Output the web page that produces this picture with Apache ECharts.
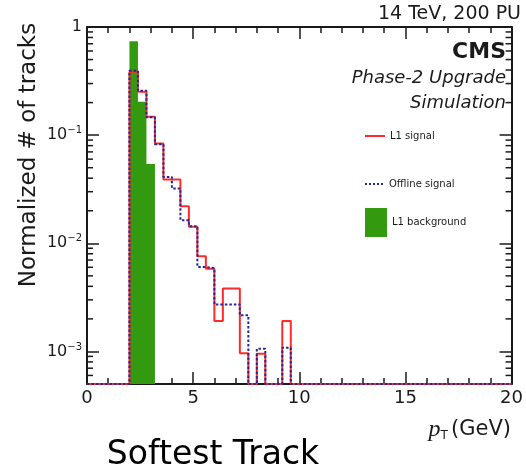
<!DOCTYPE html>
<html>
<head>
<meta charset="utf-8">
<script src="https://cdn.jsdelivr.net/npm/echarts@6/dist/echarts.min.js"></script>
<style>
    html, body { margin: 0; padding: 0; background: #fff; }
    #chart { width: 526px; height: 472px; }
</style>
</head>
<body>
<div id="chart"></div>
<script>
// bin edges of the histogram (GeV), 0.4 GeV bins between 2 and 10
let binEdges = [2.0, 2.4, 2.8, 3.2, 3.6, 4.0, 4.4, 4.8, 5.2, 5.6, 6.0,
                6.4, 6.8, 7.2, 7.6, 8.0, 8.4, 8.8, 9.2, 9.6, 10.0]

// normalized # of tracks per bin
let l1Signal = [0.386, 0.252, 0.148, 0.0838, 0.0389, 0.0389, 0.0220, 0.0142, 0.00758, 0.00583,
                0.00191, 0.00381, 0.00381, 0.00096, 0, 0.00095, 0, 0, 0.00191, 0]
let offlineSignal = [0.395, 0.257, 0.146, 0.0826, 0.0411, 0.0321, 0.0163, 0.0144, 0.00604, 0.0059,
                     0.00272, 0.00272, 0.00272, 0.00216, 0, 0.00106, 0, 0, 0.00108, 0]
let l1Background = [0.74, 0.204, 0.054, 0, 0, 0, 0, 0, 0, 0,
                    0, 0, 0, 0, 0, 0, 0, 0, 0, 0]

let xTicks = [0, 5, 10, 15, 20]
let yMin = 5e-4
let yMax = 1

let font = 'DejaVu Sans'
let ink = '#1a1a1a'
let green = '#33990f'
let red = '#ff2b2b'
let blue = '#262699'

// empty bins sit on the floor of the log axis
function histLine (values) {
    let pts = [[xTicks[0], yMin]]
    for (let i = 0; i < values.length; i++) {
        pts.push([binEdges[i], Math.max(values[i], yMin)])
    }
    pts.push([binEdges[binEdges.length - 1], yMin])
    pts.push([xTicks[xTicks.length - 1], yMin])
    return pts
}

// log minor ticks (2..9 x each decade) on both frame sides
let minorTicks = []
for (let e = -4; e < 0; e++) {
    for (let m = 2; m <= 9; m++) {
        let v = m * Math.pow(10, e)
        if (v > yMin && v < yMax) minorTicks.push([0, v])
    }
}

let chart = echarts.init(document.getElementById('chart'))

let axisLine = { show: true, onZero: false, lineStyle: { color: ink, width: 2 } }
let tickStyle = { color: ink, width: 1.5 }

function xAxis (pos, labels) {
    return {
        type: 'value', position: pos, min: xTicks[0], max: xTicks[xTicks.length - 1], interval: 5,
        axisLine: axisLine,
        axisTick: { show: true, inside: true, length: 12, lineStyle: tickStyle },
        minorTick: { show: true, splitNumber: 5, length: 6, lineStyle: tickStyle },
        splitLine: { show: false },
        axisLabel: { show: labels, fontFamily: font, fontSize: 18, color: ink, margin: 5 }
    }
}

function yAxis (pos, labels) {
    return {
        type: 'log', logBase: 10, position: pos, min: yMin, max: yMax,
        axisLine: axisLine,
        axisTick: { show: true, inside: true, length: 12, lineStyle: tickStyle },
        splitLine: { show: false },
        axisLabel: {
            show: labels, margin: 5, showMinLabel: false,
            formatter: function (v) {
                let e = Math.round(Math.log10(v))
                if (Math.abs(Math.log10(v) - e) > 1e-6) return ''
                if (e === 0) return '{b|1}'
                return '{b|10}{s|\u2212' + (-e) + '}'
            },
            rich: {
                b: { fontFamily: font, fontSize: 16, color: ink },
                s: { fontFamily: font, fontSize: 10, color: ink, padding: [0, 0, 9, 0] }
            }
        }
    }
}

function legendItem (item, left, top, w, h) {
    return {
        data: [item], left: left, top: top, itemWidth: w, itemHeight: h,
        textStyle: { fontFamily: font, fontSize: 10, color: ink }
    }
}

let dotted = 'path://M0,0h2v2h-2zM4,0h2v2h-2zM8,0h2v2h-2zM12,0h2v2h-2zM16,0h2v2h-2z'

chart.setOption({
    animation: false,
    backgroundColor: '#fff',
    grid: { left: 87, right: 14, top: 27, bottom: 88 },
    xAxis: [xAxis('bottom', true), xAxis('top', false)],
    yAxis: [yAxis('left', true), yAxis('right', false)],
    legend: [
        legendItem({ name: 'L1 signal', icon: 'rect' }, 360, 126, 20, 2),
        legendItem({ name: 'Offline signal', icon: dotted }, 360, 174, 20, 2),
        legendItem({ name: 'L1 background', icon: 'rect' }, 360, 203, 22, 29)
    ],
    series: [
        {
            name: 'L1 background', type: 'line', step: 'end', symbol: 'none', color: green,
            lineStyle: { width: 0 },
            areaStyle: { color: green, opacity: 1, origin: 'start' },
            data: histLine(l1Background)
        },
        {
            name: 'L1 signal', type: 'line', step: 'end', symbol: 'none', color: red,
            lineStyle: { width: 2, color: red },
            data: histLine(l1Signal)
        },
        {
            name: 'Offline signal', type: 'line', step: 'end', symbol: 'none', color: blue,
            lineStyle: { width: 2, color: blue, type: [2.5, 2] },
            data: histLine(offlineSignal)
        },
        {
            name: 'minor', type: 'custom', silent: true, clip: false,
            data: minorTicks,
            renderItem: function (params, api) {
                let cs = params.coordSys
                let y = api.coord([0, api.value(1)])[1]
                let st = { stroke: ink, lineWidth: 1.5 }
                return {
                    type: 'group',
                    children: [
                        { type: 'line', shape: { x1: cs.x, y1: y, x2: cs.x + 6, y2: y }, style: st },
                        { type: 'line', shape: { x1: cs.x + cs.width - 6, y1: y, x2: cs.x + cs.width, y2: y }, style: st }
                    ]
                }
            }
        }
    ],
    graphic: [
        { type: 'text', x: 521, y: 14, style: { text: '14 TeV, 200 PU', font: '19px "DejaVu Sans"', fill: ink, align: 'right', verticalAlign: 'middle' } },
        { type: 'text', x: 506, y: 52, style: { text: 'CMS', font: 'bold 22px "DejaVu Sans"', fill: ink, align: 'right', verticalAlign: 'middle' } },
        { type: 'text', x: 506, y: 78, style: { text: 'Phase-2 Upgrade', font: 'italic 18px "DejaVu Sans"', fill: ink, align: 'right', verticalAlign: 'middle' } },
        { type: 'text', x: 506, y: 103, style: { text: 'Simulation', font: 'italic 18px "DejaVu Sans"', fill: ink, align: 'right', verticalAlign: 'middle' } },
        { type: 'text', x: 29, y: 155, rotation: Math.PI / 2, style: { text: 'Normalized # of tracks', font: '23px "DejaVu Sans"', fill: ink, align: 'center', verticalAlign: 'middle' } },
        {
            type: 'text', x: 511, y: 430,
            style: {
                text: '{p|p}{t|T} {g|(GeV)}', align: 'right', verticalAlign: 'middle',
                rich: {
                    p: { font: 'italic 24px "Liberation Serif"', fill: ink },
                    t: { font: '12px "DejaVu Sans"', fill: ink, padding: [12, 0, 0, 0] },
                    g: { font: '21px "DejaVu Sans"', fill: ink }
                }
            }
        },
        { type: 'text', x: 213, y: 455, style: { text: 'Softest Track', font: '33px "DejaVu Sans"', fill: '#000', align: 'center', verticalAlign: 'middle' } }
    ]
})
</script>
</body>
</html>
